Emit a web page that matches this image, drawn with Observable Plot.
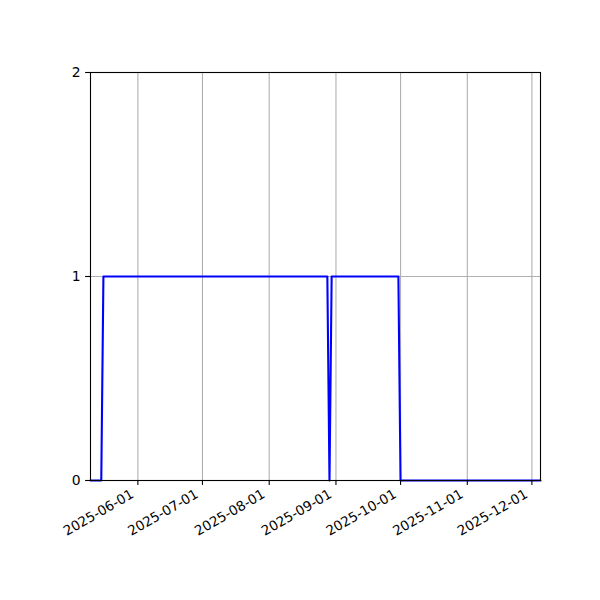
<!DOCTYPE html>
<html>
<head>
<meta charset="utf-8">
<script src="https://cdn.jsdelivr.net/npm/d3@7"></script>
<script src="https://cdn.jsdelivr.net/npm/@observablehq/plot@0.6"></script>
<style>
  html, body { margin: 0; padding: 0; background: white; overflow: hidden; }
</style>
</head>
<body>
<div id="chart"></div>
<script>
// Key points of the step series (date, value)
const dates = ["2025-05-10", "2025-05-15", "2025-05-16", "2025-08-28", "2025-08-29", "2025-08-30", "2025-09-30", "2025-10-01", "2025-12-05"];
const values = [0, 0, 1, 1, 0, 1, 1, 0, 0];

// Axis domain and ticks
const xDomain = ["2025-05-10", "2025-12-05"];
const xTickLabels = ["2025-06-01", "2025-07-01", "2025-08-01", "2025-09-01", "2025-10-01", "2025-11-01", "2025-12-01"];
const yTicks = [0, 1, 2];

const data = dates.map((d, i) => ({date: new Date(d), value: values[i]}));
const xTicks = xTickLabels.map(d => new Date(d));

const plot = Plot.plot({
  width: 600,
  height: 600,
  marginLeft: 90,
  marginRight: 60,
  marginTop: 72,
  marginBottom: 120,
  style: {fontFamily: "DejaVu Sans", fontSize: "13.9px", color: "black", background: "white"},
  x: {type: "utc", domain: xDomain.map(d => new Date(d))},
  y: {domain: [0, 2]},
  marks: [
    Plot.gridX(xTicks, {stroke: "#b0b0b0", strokeOpacity: 1, strokeWidth: 1.1}),
    Plot.gridY(yTicks, {stroke: "#b0b0b0", strokeOpacity: 1, strokeWidth: 1.1}),
    Plot.line(data, {x: "date", y: "value", stroke: "blue", strokeWidth: 2.1}),
    Plot.frame({stroke: "black", strokeWidth: 1.1}),
    Plot.axisX(xTicks, {tickSize: 4.9, tickFormat: () => "", strokeWidth: 1.1, label: null}),
    Plot.text(xTicks, {
      x: d => d,
      text: (d, i) => xTickLabels[i],
      frameAnchor: "bottom",
      rotate: -30,
      textAnchor: "end",
      lineAnchor: "top",
      dx: -8,
      dy: 8,
      fontSize: 13.5,
      fill: "black"
    }),
    Plot.axisY(yTicks, {tickSize: 4.9, tickPadding: 4.9, tickFormat: d => String(d), strokeWidth: 1.1, label: null, fontSize: 13.9})
  ]
});
document.getElementById("chart").appendChild(plot);
</script>
</body>
</html>
